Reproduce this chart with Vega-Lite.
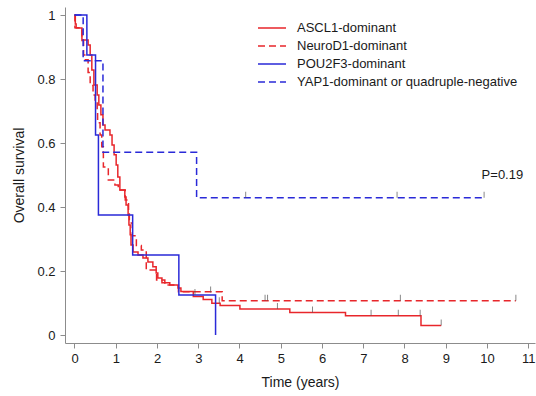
{
  "$schema": "https://vega.github.io/schema/vega-lite/v6.json",
  "width": 470,
  "height": 336,
  "autosize": {"type": "none"},
  "padding": {"left": 65, "top": 7, "right": 1, "bottom": 53},
  "background": "white",
  "config": {
    "view": {"stroke": null},
    "font": "Liberation Sans",
    "axis": {
      "domainColor": "#8c8c8c",
      "tickColor": "#8c8c8c",
      "tickSize": 5,
      "labelFontSize": 13,
      "labelColor": "#1a1a1a",
      "titleFontSize": 14,
      "titleFontWeight": "normal",
      "titleColor": "#1a1a1a",
      "grid": false
    }
  },
  "datasets": {
    "curves": [
      {"group": "ASCL1-dominant", "t": 0, "s": 1},
      {"group": "ASCL1-dominant", "t": 0.02, "s": 0.972},
      {"group": "ASCL1-dominant", "t": 0.04, "s": 0.959},
      {"group": "ASCL1-dominant", "t": 0.18, "s": 0.922},
      {"group": "ASCL1-dominant", "t": 0.33, "s": 0.906},
      {"group": "ASCL1-dominant", "t": 0.38, "s": 0.875},
      {"group": "ASCL1-dominant", "t": 0.42, "s": 0.828},
      {"group": "ASCL1-dominant", "t": 0.47, "s": 0.781},
      {"group": "ASCL1-dominant", "t": 0.55, "s": 0.75},
      {"group": "ASCL1-dominant", "t": 0.59, "s": 0.719},
      {"group": "ASCL1-dominant", "t": 0.64, "s": 0.688},
      {"group": "ASCL1-dominant", "t": 0.69, "s": 0.656},
      {"group": "ASCL1-dominant", "t": 0.74, "s": 0.641},
      {"group": "ASCL1-dominant", "t": 0.86, "s": 0.625},
      {"group": "ASCL1-dominant", "t": 0.91, "s": 0.594},
      {"group": "ASCL1-dominant", "t": 0.96, "s": 0.563},
      {"group": "ASCL1-dominant", "t": 1.01, "s": 0.531},
      {"group": "ASCL1-dominant", "t": 1.05, "s": 0.494},
      {"group": "ASCL1-dominant", "t": 1.10, "s": 0.453},
      {"group": "ASCL1-dominant", "t": 1.22, "s": 0.431},
      {"group": "ASCL1-dominant", "t": 1.25, "s": 0.406},
      {"group": "ASCL1-dominant", "t": 1.30, "s": 0.375},
      {"group": "ASCL1-dominant", "t": 1.32, "s": 0.344},
      {"group": "ASCL1-dominant", "t": 1.35, "s": 0.313},
      {"group": "ASCL1-dominant", "t": 1.37, "s": 0.281},
      {"group": "ASCL1-dominant", "t": 1.42, "s": 0.259},
      {"group": "ASCL1-dominant", "t": 1.54, "s": 0.25},
      {"group": "ASCL1-dominant", "t": 1.66, "s": 0.241},
      {"group": "ASCL1-dominant", "t": 1.78, "s": 0.228},
      {"group": "ASCL1-dominant", "t": 1.90, "s": 0.213},
      {"group": "ASCL1-dominant", "t": 1.98, "s": 0.194},
      {"group": "ASCL1-dominant", "t": 2.02, "s": 0.178},
      {"group": "ASCL1-dominant", "t": 2.12, "s": 0.163},
      {"group": "ASCL1-dominant", "t": 2.31, "s": 0.156},
      {"group": "ASCL1-dominant", "t": 2.51, "s": 0.147},
      {"group": "ASCL1-dominant", "t": 2.58, "s": 0.136},
      {"group": "ASCL1-dominant", "t": 2.88, "s": 0.120},
      {"group": "ASCL1-dominant", "t": 3.12, "s": 0.111},
      {"group": "ASCL1-dominant", "t": 3.33, "s": 0.099},
      {"group": "ASCL1-dominant", "t": 3.53, "s": 0.092},
      {"group": "ASCL1-dominant", "t": 4.01, "s": 0.081},
      {"group": "ASCL1-dominant", "t": 5.22, "s": 0.070},
      {"group": "ASCL1-dominant", "t": 6.57, "s": 0.060},
      {"group": "ASCL1-dominant", "t": 8.40, "s": 0.030},
      {"group": "ASCL1-dominant", "t": 8.89, "s": 0.030},
      {"group": "NeuroD1-dominant", "t": 0, "s": 1},
      {"group": "NeuroD1-dominant", "t": 0.01, "s": 0.96},
      {"group": "NeuroD1-dominant", "t": 0.18, "s": 0.92},
      {"group": "NeuroD1-dominant", "t": 0.22, "s": 0.875},
      {"group": "NeuroD1-dominant", "t": 0.25, "s": 0.86},
      {"group": "NeuroD1-dominant", "t": 0.33, "s": 0.82},
      {"group": "NeuroD1-dominant", "t": 0.38, "s": 0.78},
      {"group": "NeuroD1-dominant", "t": 0.45, "s": 0.75},
      {"group": "NeuroD1-dominant", "t": 0.50, "s": 0.734},
      {"group": "NeuroD1-dominant", "t": 0.55, "s": 0.70},
      {"group": "NeuroD1-dominant", "t": 0.56, "s": 0.663},
      {"group": "NeuroD1-dominant", "t": 0.62, "s": 0.625},
      {"group": "NeuroD1-dominant", "t": 0.66, "s": 0.588},
      {"group": "NeuroD1-dominant", "t": 0.70, "s": 0.525},
      {"group": "NeuroD1-dominant", "t": 0.82, "s": 0.484},
      {"group": "NeuroD1-dominant", "t": 0.98, "s": 0.469},
      {"group": "NeuroD1-dominant", "t": 1.06, "s": 0.453},
      {"group": "NeuroD1-dominant", "t": 1.23, "s": 0.422},
      {"group": "NeuroD1-dominant", "t": 1.31, "s": 0.39},
      {"group": "NeuroD1-dominant", "t": 1.33, "s": 0.35},
      {"group": "NeuroD1-dominant", "t": 1.40, "s": 0.31},
      {"group": "NeuroD1-dominant", "t": 1.50, "s": 0.28},
      {"group": "NeuroD1-dominant", "t": 1.62, "s": 0.266},
      {"group": "NeuroD1-dominant", "t": 1.74, "s": 0.203},
      {"group": "NeuroD1-dominant", "t": 1.99, "s": 0.172},
      {"group": "NeuroD1-dominant", "t": 2.19, "s": 0.156},
      {"group": "NeuroD1-dominant", "t": 2.52, "s": 0.135},
      {"group": "NeuroD1-dominant", "t": 3.58, "s": 0.107},
      {"group": "NeuroD1-dominant", "t": 10.70, "s": 0.107},
      {"group": "POU2F3-dominant", "t": 0, "s": 1},
      {"group": "POU2F3-dominant", "t": 0.30, "s": 0.875},
      {"group": "POU2F3-dominant", "t": 0.51, "s": 0.625},
      {"group": "POU2F3-dominant", "t": 0.58, "s": 0.375},
      {"group": "POU2F3-dominant", "t": 1.41, "s": 0.25},
      {"group": "POU2F3-dominant", "t": 2.53, "s": 0.125},
      {"group": "POU2F3-dominant", "t": 3.42, "s": 0},
      {"group": "YAP1-dominant or quadruple-negative", "t": 0, "s": 1},
      {"group": "YAP1-dominant or quadruple-negative", "t": 0.21, "s": 0.857},
      {"group": "YAP1-dominant or quadruple-negative", "t": 0.69, "s": 0.571},
      {"group": "YAP1-dominant or quadruple-negative", "t": 2.96, "s": 0.429},
      {"group": "YAP1-dominant or quadruple-negative", "t": 9.93, "s": 0.429}
    ],
    "censor": [
      {"group": "YAP1-dominant or quadruple-negative", "t": 4.15, "s": 0.429},
      {"group": "YAP1-dominant or quadruple-negative", "t": 7.82, "s": 0.429},
      {"group": "YAP1-dominant or quadruple-negative", "t": 9.93, "s": 0.429},
      {"group": "NeuroD1-dominant", "t": 3.30, "s": 0.133},
      {"group": "NeuroD1-dominant", "t": 4.62, "s": 0.107},
      {"group": "NeuroD1-dominant", "t": 4.68, "s": 0.107},
      {"group": "NeuroD1-dominant", "t": 7.90, "s": 0.107},
      {"group": "NeuroD1-dominant", "t": 10.70, "s": 0.107},
      {"group": "ASCL1-dominant", "t": 3.51, "s": 0.099},
      {"group": "ASCL1-dominant", "t": 4.92, "s": 0.081},
      {"group": "ASCL1-dominant", "t": 5.77, "s": 0.070},
      {"group": "ASCL1-dominant", "t": 7.19, "s": 0.060},
      {"group": "ASCL1-dominant", "t": 7.85, "s": 0.060},
      {"group": "ASCL1-dominant", "t": 8.38, "s": 0.060},
      {"group": "ASCL1-dominant", "t": 8.89, "s": 0.030},
      {"group": "POU2F3-dominant", "t": 2.92, "s": 0.125}
    ],
    "notes": [
      {"label": "P=0.19", "t": 9.87, "s": 0.5}
    ]
  },
  "layer": [
    {
      "data": {"name": "curves"},
      "mark": {"type": "line", "interpolate": "step-after", "strokeWidth": 1.5},
      "encoding": {
        "x": {
          "field": "t", "type": "quantitative",
          "scale": {"domain": [-0.2303, 11.164], "nice": false, "zero": false},
          "axis": {"title": "Time (years)", "values": [0,1,2,3,4,5,6,7,8,9,10,11], "format": "d", "labelPadding": 4, "titlePadding": 10}
        },
        "y": {
          "field": "s", "type": "quantitative",
          "scale": {"domain": [-0.025, 1.025], "nice": false, "zero": false},
          "axis": {"title": "Overall survival", "values": [0,0.2,0.4,0.6,0.8,1], "format": ".1~f", "labelPadding": 5, "titlePadding": 10}
        },
        "color": {
          "field": "group", "type": "nominal",
          "scale": {
            "domain": ["ASCL1-dominant", "NeuroD1-dominant", "POU2F3-dominant", "YAP1-dominant or quadruple-negative"],
            "range": ["#e8262b", "#e8262b", "#2a2ad8", "#2a2ad8"]
          },
          "legend": {
            "title": null,
            "orient": "none",
            "legendX": 196,
            "legendY": 10,
            "symbolType": "M-1.4,0H1.4",
            "symbolSize": 400,
            "symbolStrokeWidth": 1.5,
            "labelFontSize": 13,
            "labelColor": "#1a1a1a",
            "labelOffset": 14,
            "labelLimit": 400,
            "rowPadding": 0,
            "padding": 0
          }
        },
        "strokeDash": {
          "field": "group", "type": "nominal",
          "scale": {
            "domain": ["ASCL1-dominant", "NeuroD1-dominant", "POU2F3-dominant", "YAP1-dominant or quadruple-negative"],
            "range": [[1, 0], [7, 4], [1, 0], [7, 4]]
          },
          "legend": {
            "title": null,
            "orient": "none",
            "legendX": 196,
            "legendY": 10,
            "symbolType": "M-1.4,0H1.4",
            "symbolSize": 400,
            "symbolStrokeWidth": 1.5,
            "labelFontSize": 13,
            "labelColor": "#1a1a1a",
            "labelOffset": 14,
            "labelLimit": 400,
            "rowPadding": 0,
            "padding": 0
          }
        }
      }
    },
    {
      "data": {"name": "censor"},
      "mark": {"type": "tick", "orient": "vertical", "size": 6, "thickness": 1, "yOffset": -3, "color": "#555555"},
      "encoding": {
        "x": {"field": "t", "type": "quantitative"},
        "y": {"field": "s", "type": "quantitative"}
      }
    },
    {
      "data": {"name": "notes"},
      "mark": {"type": "text", "align": "left", "baseline": "middle", "fontSize": 13, "color": "#1a1a1a"},
      "encoding": {
        "x": {"field": "t", "type": "quantitative"},
        "y": {"field": "s", "type": "quantitative"},
        "text": {"field": "label"}
      }
    }
  ]
}
